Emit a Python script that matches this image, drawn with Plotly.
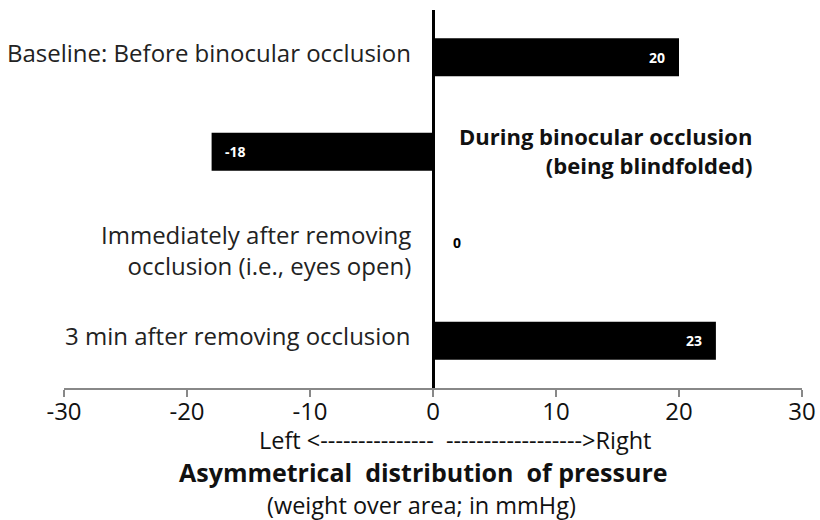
import plotly.graph_objects as go

categories = [
    "Baseline: Before binocular occlusion",
    "During binocular occlusion<br>(being blindfolded)",
    "Immediately after removing<br>occlusion (i.e., eyes open)",
    "3 min after removing occlusion",
]
values = [20, -18, 0, 23]
tick_vals = [-30, -20, -10, 0, 10, 20, 30]
tick_text = ["-30", "-20", "-10", "0", "10", "20", "30"]
direction_text = "Left <" + "-" * 15 + "  " + "-" * 18 + ">Right"
axis_title = "<b>Asymmetrical  distribution  of pressure</b>"
axis_subtitle = "(weight over area; in mmHg)"

FONT = "Open Sans, Calibri, sans-serif"

fig = go.Figure()
fig.add_trace(go.Bar(
    x=values, y=categories, orientation="h",
    marker=dict(color="black", line=dict(width=0)),
    hoverinfo="skip",
))

annotations = []
for cat, v in zip(categories, values):
    if v < 0:
        annotations.append(dict(
            x=0, y=cat, xref="x", yref="y", text="<b>" + cat + "</b>",
            xanchor="left", align="right", xshift=24, yshift=1,
            showarrow=False, font=dict(family=FONT, size=22, color="#111"),
        ))
    else:
        two_line = "<br>" in cat
        annotations.append(dict(
            x=0, y=cat, xref="x", yref="y", text=cat,
            xanchor="right", align="right", xshift=-20, yshift=(-4 if two_line else 5),
            showarrow=False, font=dict(family=FONT, size=24, color="#222"),
        ))
    if v > 0:
        annotations.append(dict(x=v, y=cat, xref="x", yref="y", text="<b>%d</b>" % v,
                                xanchor="right", xshift=-12, showarrow=False,
                                font=dict(family=FONT, size=14, color="white")))
    elif v < 0:
        annotations.append(dict(x=v, y=cat, xref="x", yref="y", text="<b>%d</b>" % v,
                                xanchor="left", xshift=11, showarrow=False,
                                font=dict(family=FONT, size=14, color="white")))
    else:
        annotations.append(dict(x=v, y=cat, xref="x", yref="y", text="<b>%d</b>" % v,
                                xanchor="left", xshift=18, yshift=4, showarrow=False,
                                font=dict(family=FONT, size=14, color="black")))

W, H = 820, 520
L, T = 64, 10
R = W - 802
B = H - 388
pw, ph = W - L - R, H - T - B

bottom = [
    dict(x=455, y=440, text=direction_text, size=23.5),
    dict(x=423, y=472, text=axis_title, size=25),
    dict(x=421, y=505, text=axis_subtitle, size=23.5),
]
for b in bottom:
    annotations.append(dict(
        x=(b["x"] - L) / pw, y=(H - B - b["y"]) / ph, xref="paper", yref="paper",
        xanchor="center", yanchor="middle", text=b["text"], showarrow=False,
        font=dict(family=FONT, size=b["size"], color="#111"),
    ))

fig.update_layout(
    width=W, height=H,
    margin=dict(l=L, r=R, t=T, b=B, autoexpand=False),
    plot_bgcolor="white", paper_bgcolor="white",
    bargap=0.6,
    showlegend=False,
    annotations=annotations,
    xaxis=dict(
        range=[-30, 30], tickvals=tick_vals, ticktext=tick_text,
        showgrid=False, zeroline=True, zerolinecolor="black", zerolinewidth=3,
        showline=True, linecolor="#888", linewidth=1.5,
        ticks="outside", tickcolor="#888", ticklen=7, tickwidth=1.5,
        ticklabelstandoff=-6, ticklabeloverflow="allow",
        tickfont=dict(family=FONT, size=24, color="#111"),
        automargin=False, fixedrange=True,
    ),
    yaxis=dict(
        categoryorder="array", categoryarray=categories, autorange="reversed",
        showticklabels=False, showgrid=False, zeroline=False, showline=False,
        automargin=False, fixedrange=True,
    ),
)

fig.write_html(
    "out.html",
    config={"displayModeBar": False},
    post_script="document.body.style.margin='0';document.body.style.overflow='hidden';",
)
